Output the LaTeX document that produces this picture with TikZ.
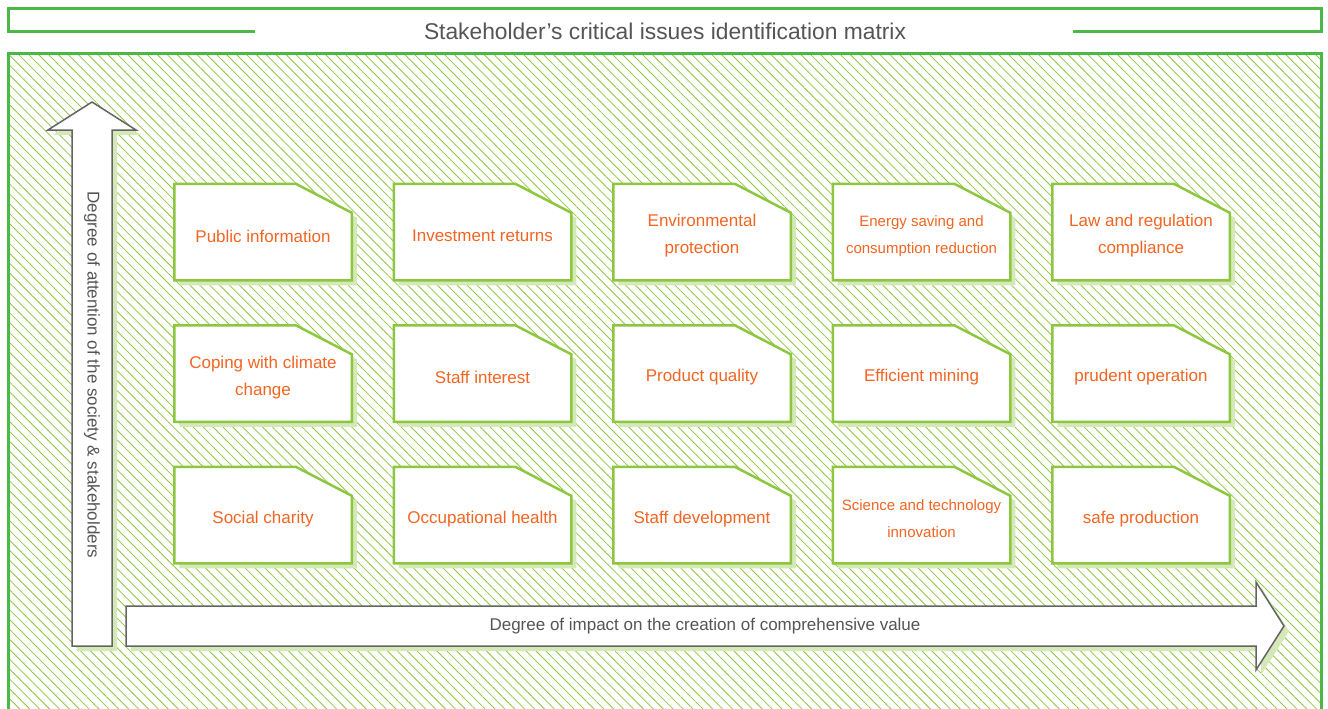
\documentclass[tikz,border=0pt]{standalone}
\usepackage{fontspec}
\setmainfont{Liberation Sans}
\usepackage{tikz}
\usetikzlibrary{positioning,shadows,patterns.meta}
\definecolor{framegreen}{RGB}{76,184,72}
\definecolor{hatchgreen}{RGB}{141,198,63}
\definecolor{boxgreen}{RGB}{141,198,63}
\definecolor{shadegreen}{RGB}{212,232,184}
\definecolor{issuetext}{RGB}{242,101,34}
\definecolor{axisgray}{RGB}{100,100,100}
\definecolor{labelgray}{RGB}{85,85,85}
\pgfdeclarelayer{back}
\pgfdeclarelayer{boxes}
\pgfsetlayers{back,boxes,main}

\begin{document}
\begin{tikzpicture}[x=1pt,y=-1pt,
  node distance=45pt and 42pt,
  issue/.style={rectangle, minimum width=177.5pt, minimum height=96.5pt,
    inner sep=0pt, outer sep=0pt, align=center, text=issuetext,
    font=\fontsize{17}{27}\selectfont},
  smalltext/.style={font=\fontsize{15}{27}\selectfont},
  issuebox/.style={draw=boxgreen, line width=2.5pt, fill=white, line join=miter,
    drop shadow={shadow xshift=5pt, shadow yshift=-5pt, fill=shadegreen, opacity=1}},
  axis/.style={draw=axisgray, line width=1.5pt, fill=white,
    drop shadow={shadow xshift=5pt, shadow yshift=-5pt, fill=shadegreen, opacity=1}},
  axislabel/.style={text=labelgray, font=\fontsize{17}{20}\selectfont},
  frame/.style={draw=framegreen, line width=3pt}]
\useasboundingbox (0,0) rectangle (1328,709);
\clip (0,0) rectangle (1328,709);

\begin{pgfonlayer}{back}
\draw[frame] (255,32) -- (8,32) -- (8,9) -- (1321,9) -- (1321,32) -- (1073,32);
\fill[pattern={Lines[angle=-45, distance=7pt, line width=0.8pt]}, pattern color=hatchgreen]
  (8,54) rectangle (1321,720);
\draw[frame] (8,720) -- (8,54) -- (1321,54) -- (1321,720);
\draw[axis] (72,646) -- (72,130) -- (48,130) -- (92,102) -- (136,130) -- (112,130) -- (112,646) -- cycle;
\draw[axis] (126,606) -- (1256,606) -- (1256,582) -- (1284,626) -- (1256,670) -- (1256,646) -- (126,646) -- cycle;
\end{pgfonlayer}

\node[text=labelgray, font=\fontsize{22.8}{27}\selectfont] (title) at (665,31)
  {Stakeholder’s critical issues identification matrix};
\node[axislabel, rotate=-90] (attention) at (92,375) {Degree of attention of the society \& stakeholders};
\node[axislabel] (impact) at (705,626) {Degree of impact on the creation of comprehensive value};

\node[issue] (pubinfo) at (263,236) {Public information};
\node[issue, right=of pubinfo] (invest) {Investment returns};
\node[issue, right=of invest] (envprot) {Environmental\\protection};
\node[issue, smalltext, right=of envprot] (energy) {Energy saving and\\consumption reduction};
\node[issue, right=of energy] (law) {Law and regulation\\compliance};

\node[issue, below=of pubinfo] (climate) {Coping with climate\\change};
\node[issue, right=of climate] (staff) {Staff interest};
\node[issue, right=of staff] (quality) {Product quality};
\node[issue, right=of quality] (mining) {Efficient mining};
\node[issue, right=of mining] (prudent) {prudent operation};

\node[issue, below=of climate] (charity) {Social charity};
\node[issue, right=of charity] (health) {Occupational health};
\node[issue, right=of health] (develop) {Staff development};
\node[issue, smalltext, right=of develop] (science) {Science and technology\\innovation};
\node[issue, right=of science] (safety) {safe production};

\begin{pgfonlayer}{boxes}
\foreach \n in {pubinfo,invest,envprot,energy,law,climate,staff,quality,mining,prudent,
  charity,health,develop,science,safety}
  \draw[issuebox] ([yshift=4pt]\n.south west) -- ([yshift=4pt]\n.north west)
    -- ([xshift=-56pt,yshift=4pt]\n.north east) -- ([yshift=-25pt]\n.north east)
    -- ([yshift=4pt]\n.south east) -- cycle;
\end{pgfonlayer}
\end{tikzpicture}
\end{document}
